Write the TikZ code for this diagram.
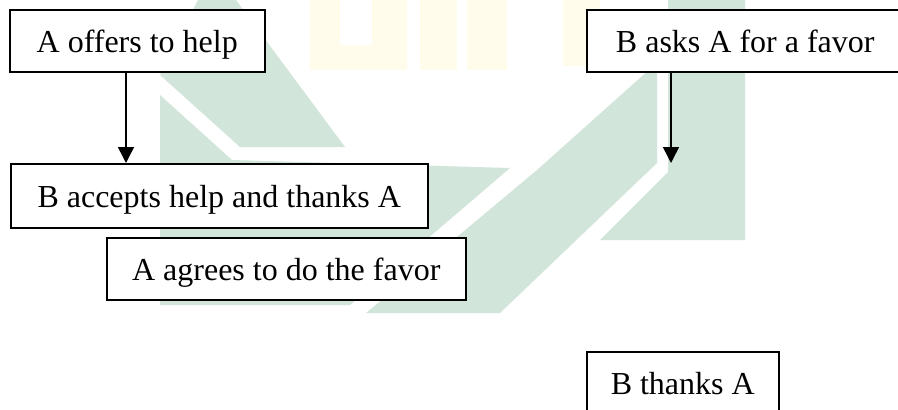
\documentclass[tikz,border=0pt]{standalone}
\usepackage{fontspec}
\setmainfont{Liberation Serif}
\usetikzlibrary{arrows.meta}
\definecolor{wmgreen}{RGB}{210,229,218}
\definecolor{wmyellow}{RGB}{255,252,236}
\tikzset{
  box/.style={draw, line width=1.5pt, fill=white, inner sep=0pt, anchor=north west,
    text height=23pt, text depth=0pt, font=\fontsize{32}{38}\selectfont},
  arrow/.style={line width=1.5pt, -{Triangle[width=16pt,length=16pt]}},
  wm/.style={fill=wmgreen, draw=none},
  wmy/.style={fill=wmyellow, draw=none}
}
\begin{document}
\begin{tikzpicture}[x=1pt,y=-1pt]
\useasboundingbox (0,0) rectangle (898,410);
\clip (0,0) rectangle (898,410);
\fill[white] (0,0) rectangle (898,410);
% faint watermark
\fill[wmy] (310,0) -- (407,0) -- (407,70) -- (310,70) -- cycle;
\fill[white] (340,0) -- (372,0) -- (372,45) -- (340,45) -- cycle;
\fill[wmy] (420,0) -- (457,0) -- (457,70) -- (420,70) -- cycle;
\fill[wmy] (467,0) -- (507,0) -- (507,70) -- (467,70) -- cycle;
\fill[wmy] (563,0) -- (600,0) -- (600,66) -- (563,66) -- cycle;
\fill[wm] (198,0) -- (236,0) -- (345,147) -- (240,147) -- (160,75) -- cycle;
\fill[wm] (160,95) -- (232,160) -- (510,168) -- (350,305) -- (160,305) -- cycle;
\fill[wm] (650,69) -- (657,69) -- (657,163) -- (500,313) -- (366,313) -- (537,170) -- cycle;
\fill[wm] (668,0) -- (745,0) -- (745,240) -- (600,240) -- (668,172) -- cycle;
% boxes
\node[box, minimum width=255pt, minimum height=62pt] (b1) at (9,9) {A offers to help};
\node[box, minimum width=417pt, minimum height=64pt] (b2) at (10,163) {B accepts help and thanks A};
\node[box, minimum width=359pt, minimum height=62pt] (b3) at (106,237) {A agrees to do the favor};
\node[box, minimum width=317pt, minimum height=62pt] (b4) at (586,9) {B asks A for a favor};
\node[box, minimum width=192pt, minimum height=62pt] (b5) at (586,351) {B thanks A};
% connectors
\coordinate (x1) at (126,0);
\coordinate (e2) at (671,163);
\draw[arrow] (b1.south -| x1) -- (b2.north -| x1);
\draw[arrow] (b4.south -| e2) -- (e2);
\end{tikzpicture}
\end{document}
